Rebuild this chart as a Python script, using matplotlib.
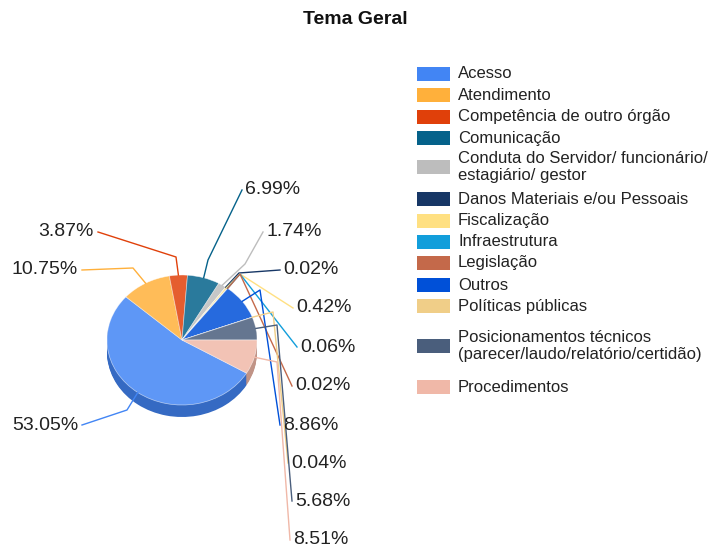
import numpy as np
import matplotlib.pyplot as plt
from matplotlib.patches import Rectangle
from matplotlib.transforms import Affine2D
from matplotlib.colors import to_rgb

plt.rcParams['font.family'] = ['Liberation Sans', 'DejaVu Sans']

# dados
categorias = ['Acesso', 'Atendimento', 'Competência de outro órgão', 'Comunicação',
              'Conduta do Servidor/ funcionário/\nestagiário/ gestor',
              'Danos Materiais e/ou Pessoais', 'Fiscalização', 'Infraestrutura',
              'Legislação', 'Outros', 'Políticas públicas',
              'Posicionamentos técnicos\n(parecer/laudo/relatório/certidão)',
              'Procedimentos']
percentuais = [53.05, 10.75, 3.87, 6.99, 1.74, 0.02, 0.42, 0.06, 0.02, 8.86, 0.04, 5.68, 8.51]
cores = ['#4285F4', '#FFB03B', '#E0400A', '#05628A', '#BDBDBD', '#173766', '#FFE082',
         '#129EDB', '#C4694A', '#0050D8', '#F0CE88', '#4A5E7C', '#F0B8A8']

# layout em pixels (y a partir do topo)
cx, cy, rx, ry, prof = 182, 340, 75, 65, 12
rot_xy = [(78, 425), (78, 270), (94, 232), (245, 190), (266, 232), (283, 270),
          (296, 308), (300, 347), (295, 386), (283, 425), (291, 463), (295, 501),
          (293, 540)]
cotovelo = [(127, 410), (133, 268), (176, 257), (208, 260), (245, 264), (239, 273),
            (240, 274), (240, 274), (240, 274), (260, 290), (273, 312), (277, 325),
            (277, 362)]
leg_y = [74, 95, 117, 138, 167, 199, 221, 242, 263, 285, 306, 346, 387]


def clarear(c, f):
    r = np.array(to_rgb(c))
    return tuple(r + (1 - r) * f)


def escurecer(c, f):
    return tuple(np.array(to_rgb(c)) * f)


fig = plt.figure(figsize=(7.11, 5.5), dpi=100)
ax = fig.add_axes([0, 0, 1, 1])

total = sum(percentuais)
inicio = -percentuais[-1] / total * 360

# lateral (profundidade)
for k in range(prof, 0, -1):
    ws, _ = ax.pie(percentuais, colors=[escurecer(c, 0.8) for c in cores],
                   startangle=inicio, counterclock=False,
                   wedgeprops=dict(linewidth=0))
    tr = Affine2D().scale(rx, -ry).translate(cx, cy + k) + ax.transData
    for w in ws:
        w.set_transform(tr)
        w.set_zorder(1)

# face superior
ws, _ = ax.pie(percentuais, colors=[clarear(c, 0.15) for c in cores],
               startangle=inicio, counterclock=False,
               wedgeprops=dict(linewidth=0.5, edgecolor=(1, 1, 1, 0.6)))
tr = Affine2D().scale(rx, -ry).translate(cx, cy) + ax.transData
for w in ws:
    w.set_transform(tr)
    w.set_zorder(2)

# rótulos com linhas de chamada
acum = 0
for p, c, (tx, ty), (ex, ey) in zip(percentuais, cores, rot_xy, cotovelo):
    meio = np.radians(inicio - (acum + p / 2) / total * 360)
    acum += p
    axp, ayp = cx + rx * np.cos(meio), cy - ry * np.sin(meio)
    esquerda = tx < cx
    fx = tx + 4 if esquerda else tx - 3
    ax.plot([axp, ex, fx], [ayp, ey, ty], color=c, lw=1, zorder=3)
    ax.text(tx, ty, f'{p:.2f}%', fontsize=14, color='#222222',
            ha='right' if esquerda else 'left', va='center', zorder=4)

# legenda
for cat, c, y in zip(categorias, cores, leg_y):
    ax.add_patch(Rectangle((417, y - 7), 33, 14, facecolor=c, edgecolor='none'))
    ax.text(458, y, cat, fontsize=12, color='#222222', va='center', linespacing=1.15)

ax.text(355, 20, 'Tema Geral', fontsize=14, fontweight='bold', color='#111111',
        ha='center', va='center')

ax.set_xlim(0, 711)
ax.set_ylim(550, 0)
ax.set_aspect('auto')
ax.axis('off')

plt.savefig('out.png', dpi=100)
